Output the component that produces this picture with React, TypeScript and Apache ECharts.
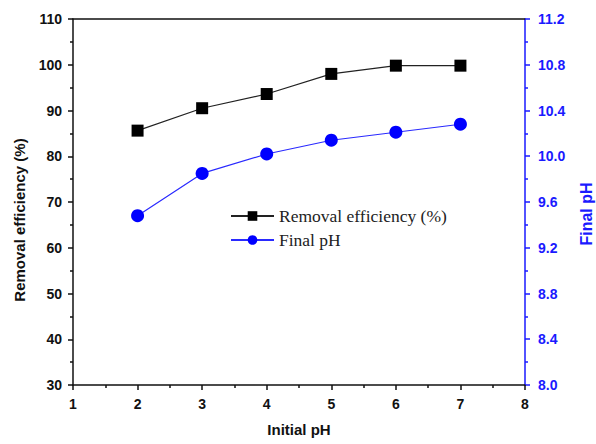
import React, { useEffect, useRef } from "react";
import * as echarts from "echarts";

const initialPH = [2, 3, 4, 5, 6, 7];
const removalEfficiency = [85.6, 90.5, 93.6, 98.0, 99.8, 99.8];
const finalPH = [9.48, 9.85, 10.02, 10.14, 10.21, 10.28];

export default function App() {
  const ref = useRef<HTMLDivElement>(null);
  useEffect(() => {
    if (!ref.current) return;
    const chart = echarts.init(ref.current, null, { renderer: "svg", width: 596, height: 444 });
    const bold = { fontFamily: "Liberation Sans, Arial, sans-serif", fontWeight: "bold" as const };
    chart.setOption({
      animation: false,
      backgroundColor: "#fff",
      grid: { left: 73, right: 71, top: 19, bottom: 59, outerBoundsMode: "none", containLabel: false },
      legend: {
        orient: "vertical",
        left: 225,
        top: 202,
        itemWidth: 43,
        itemHeight: 12,
        itemGap: 6,
        textStyle: { fontFamily: "Liberation Serif, Times New Roman, serif", fontSize: 17.5, color: "#222" },
        data: ["Removal efficiency (%)", "Final pH"],
      },
      xAxis: [
        {
          type: "value",
          min: 1,
          max: 8,
          interval: 1,
          name: "Initial pH",
          nameLocation: "middle",
          nameGap: 37,
          nameTextStyle: { ...bold, fontSize: 15, color: "#111" },
          axisLine: { lineStyle: { color: "#111", width: 1.5 } },
          axisTick: { inside: false, length: 5, lineStyle: { color: "#111", width: 1.5 } },
          minorTick: { show: true, splitNumber: 2, length: 3, lineStyle: { color: "#111", width: 1.5 } },
          axisLabel: { ...bold, fontSize: 14, color: "#111", margin: 12 },
          splitLine: { show: false },
        },
        {
          type: "value",
          position: "top",
          min: 1,
          max: 8,
          axisLine: { show: true, onZero: false, lineStyle: { color: "#111", width: 1.5 } },
          axisTick: { show: false },
          axisLabel: { show: false },
          splitLine: { show: false },
        },
      ],
      yAxis: [
        {
          type: "value",
          min: 30,
          max: 110,
          interval: 10,
          name: "Removal efficiency (%)",
          nameLocation: "middle",
          nameGap: 46,
          nameTextStyle: { ...bold, fontSize: 15, color: "#111", padding: [0, 36, 0, 0] },
          axisLine: { show: true, lineStyle: { color: "#111", width: 1.5 } },
          axisTick: { show: true, length: 5, lineStyle: { color: "#111", width: 1.5 } },
          minorTick: { show: true, splitNumber: 2, length: 3, lineStyle: { color: "#111", width: 1.5 } },
          axisLabel: { ...bold, fontSize: 14, color: "#111", margin: 11 },
          splitLine: { show: false },
        },
        {
          type: "value",
          position: "right",
          min: 8.0,
          max: 11.2,
          interval: 0.4,
          name: "Final pH",
          nameLocation: "middle",
          nameGap: 53,
          nameRotate: 90,
          nameTextStyle: { ...bold, fontSize: 16, color: "#1a1aff", padding: [0, 24, 0, 0] },
          axisLine: { show: true, lineStyle: { color: "#1a1aff", width: 1.5 } },
          axisTick: { show: true, length: 5, lineStyle: { color: "#1a1aff", width: 1.5 } },
          minorTick: { show: true, splitNumber: 2, length: 3, lineStyle: { color: "#1a1aff", width: 1.5 } },
          axisLabel: {
            ...bold,
            fontSize: 14,
            color: "#1a1aff",
            margin: 13,
            formatter: (v: number) => v.toFixed(1),
          },
          splitLine: { show: false },
        },
      ],
      series: [
        {
          name: "Removal efficiency (%)",
          type: "line",
          xAxisIndex: 0,
          yAxisIndex: 0,
          data: initialPH.map((x, i) => [x, removalEfficiency[i]]),
          symbol: "rect",
          symbolSize: 12,
          itemStyle: { color: "#000" },
          lineStyle: { color: "#222", width: 1.2 },
        },
        {
          name: "Final pH",
          type: "line",
          xAxisIndex: 0,
          yAxisIndex: 1,
          data: initialPH.map((x, i) => [x, finalPH[i]]),
          symbol: "circle",
          symbolSize: 13,
          itemStyle: { color: "#0000ff" },
          lineStyle: { color: "#2a2aff", width: 1.2 },
        },
      ],
    });
    return () => chart.dispose();
  }, []);
  return (
    <div
      ref={ref}
      style={{ position: "fixed", left: 0, top: 0, width: 596, height: 444, overflow: "hidden" }}
    />
  );
}
